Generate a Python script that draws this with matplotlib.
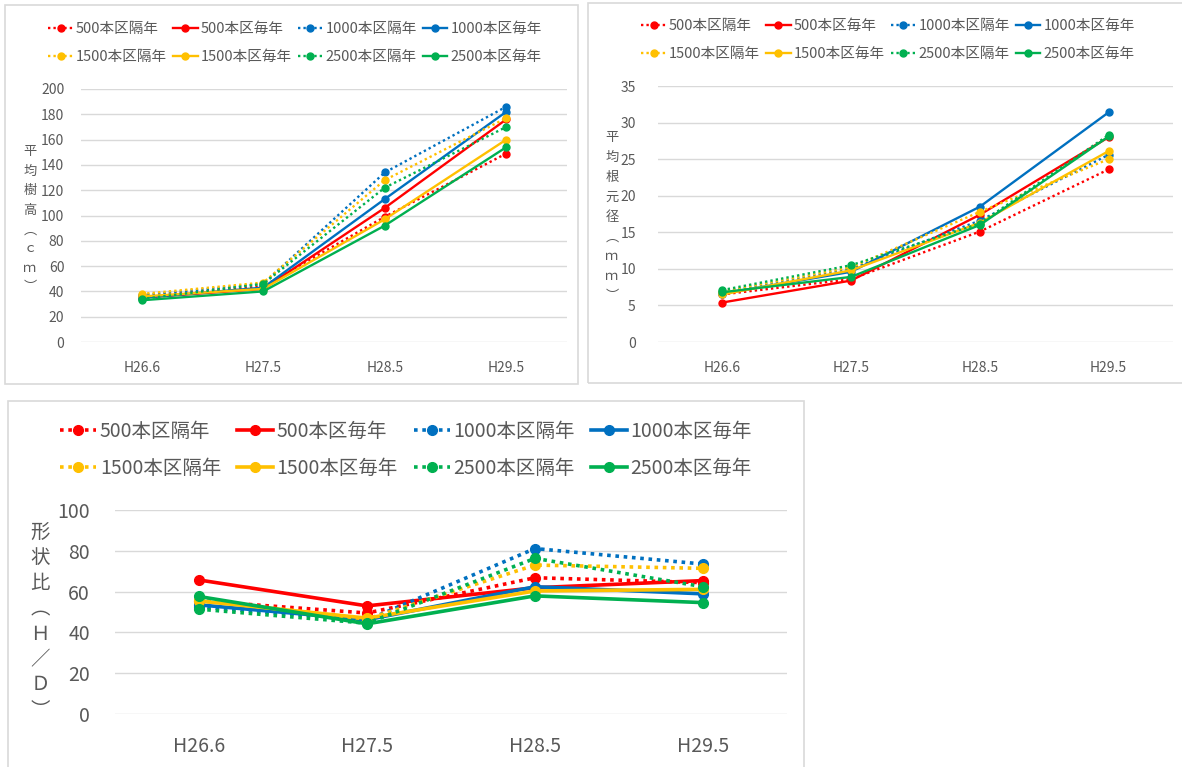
"""Growth of planted seedlings by density and weeding interval."""

import matplotlib
matplotlib.use("Agg")
import matplotlib.pyplot as plt
from matplotlib.patches import Rectangle


W, H = 1182, 767

years = ["H26.6", "H27.5", "H28.5", "H29.5"]
series_names = ["500本区隔年", "500本区毎年", "1000本区隔年", "1000本区毎年",
                "1500本区隔年", "1500本区毎年", "2500本区隔年", "2500本区毎年"]

# mean height (cm)
height_500_k = [36, 44, 99, 149]
height_500_m = [35, 42, 106, 176]
height_1000_k = [37, 46, 134, 186]
height_1000_m = [35, 43, 113, 182]
height_1500_k = [38, 47, 128, 177]
height_1500_m = [36, 42, 97, 160]
height_2500_k = [34, 46, 122, 170]
height_2500_m = [33, 40, 92, 154]

# mean root collar diameter (mm)
diam_500_k = [6.5, 8.6, 15.1, 23.6]
diam_500_m = [5.4, 8.4, 17.4, 28.0]
diam_1000_k = [6.8, 10.0, 16.6, 25.6]
diam_1000_m = [6.6, 9.6, 18.5, 31.4]
diam_1500_k = [6.9, 10.2, 17.8, 25.0]
diam_1500_m = [6.5, 9.8, 16.3, 26.1]
diam_2500_k = [7.1, 10.5, 16.2, 28.3]
diam_2500_m = [6.8, 8.9, 16.0, 28.1]

# shape ratio (H/D)
ratio_500_k = [55.5, 49.5, 66.8, 64.4]
ratio_500_m = [65.7, 53.0, 61.9, 65.4]
ratio_1000_k = [52.5, 46.0, 81.1, 73.5]
ratio_1000_m = [53.5, 46.2, 62.4, 58.9]
ratio_1500_k = [56.0, 46.5, 73.0, 71.4]
ratio_1500_m = [55.4, 47.0, 60.3, 61.1]
ratio_2500_k = [51.4, 44.5, 76.3, 62.4]
ratio_2500_m = [57.6, 44.2, 57.9, 54.6]

heights = [height_500_k, height_500_m, height_1000_k, height_1000_m,
           height_1500_k, height_1500_m, height_2500_k, height_2500_m]
diams = [diam_500_k, diam_500_m, diam_1000_k, diam_1000_m,
         diam_1500_k, diam_1500_m, diam_2500_k, diam_2500_m]
ratios = [ratio_500_k, ratio_500_m, ratio_1000_k, ratio_1000_m,
          ratio_1500_k, ratio_1500_m, ratio_2500_k, ratio_2500_m]

COLORS = ["#FF0000", "#FF0000", "#0070C0", "#0070C0",
          "#FFC000", "#FFC000", "#00B050", "#00B050"]
TEXT = "#595959"
GRID = "#D9D9D9"

plt.rcParams["font.family"] = ["Noto Sans CJK JP", "DejaVu Sans"]


def box(fig, x0, y0, x1, y1):
    """Thin grey frame around one chart, in pixel coords."""
    fig.patches.append(Rectangle((x0 / W, 1 - y1 / H), (x1 - x0) / W, (y1 - y0) / H,
                                 transform=fig.transFigure, fill=False,
                                 edgecolor=GRID, linewidth=1.2))


def make_axes(fig, x0, y0, x1, y1):
    return fig.add_axes([x0 / W, 1 - y1 / H, (x1 - x0) / W, (y1 - y0) / H])


def draw_panel(ax, data, ymax, ystep, lw, ms, fs, xpad, ypad):
    x = range(len(years))
    lines = []
    for i, (vals, name) in enumerate(zip(data, series_names)):
        style = (0, (1, 1.3)) if i % 2 == 0 else "-"
        ln, = ax.plot(x, vals, color=COLORS[i], linestyle=style, linewidth=lw,
                      marker="o", markersize=ms, label=name)
        lines.append(ln)
    ax.set_xlim(-0.5, len(years) - 0.5)
    ax.set_ylim(0, ymax)
    ax.set_yticks(range(0, ymax + 1, ystep))
    ax.set_xticks(list(x))
    ax.set_xticklabels(years)
    ax.grid(axis="y", color=GRID, linewidth=1)
    ax.set_axisbelow(True)
    for s in ax.spines.values():
        s.set_visible(False)
    ax.tick_params(length=0, labelsize=fs, colors=TEXT)
    ax.tick_params(axis="x", pad=xpad)
    ax.tick_params(axis="y", pad=ypad)
    return lines


def vertical_label(fig, chars, x, y_first, step, fs):
    for k, ch in enumerate(chars):
        fig.text(x / W, 1 - (y_first + k * step) / H, ch, ha="center", va="center",
                 fontsize=fs, color=TEXT)


def add_legend(fig, ax, lines, cx, cy, fs, hl, cs, ls):
    # legend fills column by column, so reorder to read row by row
    order = [0, 4, 1, 5, 2, 6, 3, 7]
    handles = [lines[i] for i in order]
    labels = [series_names[i] for i in order]
    ax.legend(handles, labels, loc="center", bbox_to_anchor=(cx / W, 1 - cy / H),
              bbox_transform=fig.transFigure, ncol=4, frameon=False,
              fontsize=fs, handlelength=hl, handletextpad=0.2,
              columnspacing=cs, labelspacing=ls, labelcolor=TEXT,
              numpoints=1, borderpad=0)


fig = plt.figure(figsize=(W / 100, H / 100), dpi=100)

# mean height
box(fig, 5, 5, 578, 384)
ax1 = make_axes(fig, 81, 89, 567, 342)
l1 = draw_panel(ax1, heights, 200, 20, 1.7, 5, 10, 14, 12)
add_legend(fig, ax1, l1, 295, 43, 10.5, 1.7, 0.4, 0.95)
vertical_label(fig, ["平", "均", "樹", "高", "︵", "ｃ", "ｍ", "︶"], 30, 152, 19.4, 9.5)

# mean root collar diameter
box(fig, 588, 3, 1190, 383)
ax2 = make_axes(fig, 658, 86, 1173, 342)
l2 = draw_panel(ax2, diams, 35, 5, 1.7, 5, 10, 14, 16)
add_legend(fig, ax2, l2, 888, 40, 10.5, 1.7, 0.4, 0.95)
vertical_label(fig, ["平", "均", "根", "元", "径", "︵", "ｍ", "ｍ", "︶"], 612, 138, 19.8, 9.5)

# shape ratio
box(fig, 8, 401, 804, 775)
ax3 = make_axes(fig, 115, 510, 787, 714)
l3 = draw_panel(ax3, ratios, 100, 20, 2.6, 7, 14, 16, 18)
add_legend(fig, ax3, l3, 406, 450, 14, 1.85, 0.8, 0.85)
vertical_label(fig, ["形", "状", "比", "︵", "Ｈ", "／", "Ｄ", "︶"], 40, 532, 25.5, 14)

fig.savefig("out.png", dpi=100)
print("Saved out.png")
